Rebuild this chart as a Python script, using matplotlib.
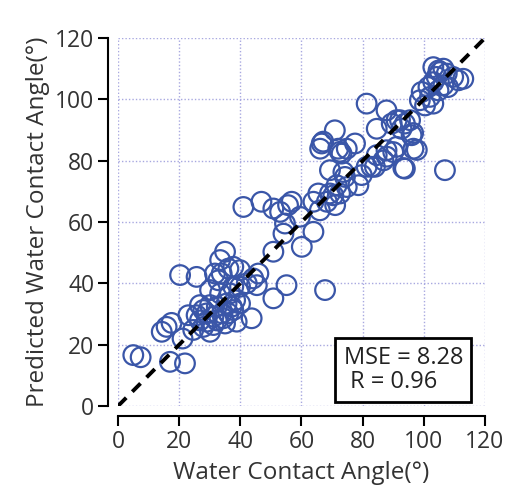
import matplotlib
matplotlib.use("Agg")
import matplotlib.pyplot as plt
import numpy as np

plt.rcParams['font.family'] = ['Open Sans', 'DejaVu Sans']

measured = [5.0, 7.4, 17.0, 21.9, 21.1, 14.3, 15.9, 17.5, 20.3, 25.7,
            24.6, 25.7, 27.9, 29.0, 30.1, 31.2, 32.3, 33.4, 32.8, 33.4,
            35.0, 36.1, 37.7, 39.9, 35.5, 36.6, 37.7, 38.8, 39.9, 37.7,
            43.7, 42.1, 44.2, 45.4, 45.9, 50.8, 55.1, 67.7, 50.8, 54.1,
            54.6, 53.0, 55.6, 56.8, 41.0, 46.9, 50.8, 59.5, 60.1, 63.9,
            63.9, 66.0, 68.3, 70.4, 71.0, 72.6, 74.2, 71.5, 78.6, 73.7,
            69.3, 66.6, 66.1, 70.9, 72.0, 73.1, 74.8, 77.5, 81.3, 84.0,
            86.8, 84.6, 87.8, 89.5, 90.0, 91.1, 92.2, 92.7, 93.8, 93.8,
            96.0, 96.6, 106.9,
            98.7, 100.4, 103.1, 99.3, 101.5, 103.1, 104.2, 105.3, 106.4, 107.5,
            104.8, 106.4, 109.6, 112.9, 111.3, 102.0, 107.9, 103.1, 104.8,
            26.8, 27.9, 29.0, 31.2, 32.3, 34.0, 34.4, 35.0, 36.1, 37.2,
            38.3, 30.1, 26.8, 23.0, 30.1, 31.7, 33.9, 39.9,
            69.3, 74.8, 65.5, 87.8, 84.6, 81.3, 95.5,
            67.1, 72.6, 91.1, 96.5, 97.7, 93.3, 87.9, 82.9, 79.7]
predicted = [16.6, 15.9, 14.4, 13.9, 22.0, 24.2, 25.8, 27.1, 42.7, 42.1,
             24.8, 29.6, 31.3, 27.5, 24.2, 29.1, 32.4, 36.7, 41.0, 47.6,
             50.3, 44.8, 45.4, 44.3, 33.4, 36.7, 31.3, 27.5, 33.4, 38.9,
             28.6, 40.0, 41.6, 39.4, 43.2, 35.1, 39.4, 37.8, 50.3, 56.2,
             59.5, 63.3, 65.5, 66.6, 64.9, 66.6, 64.4, 61.7, 51.9, 56.8,
             66.6, 63.8, 66.6, 68.7, 65.5, 69.3, 74.7, 72.0, 72.0, 76.3,
             76.9, 85.6, 83.9, 89.9, 83.9, 82.3, 83.9, 85.6, 98.6, 78.0,
             80.1, 90.4, 96.4, 92.1, 82.8, 84.5, 93.2, 90.4, 92.1, 77.4,
             88.3, 83.9, 76.9,
             99.7, 98.0, 98.6, 102.4, 104.0, 105.6, 107.3, 108.9, 110.0, 108.4,
             102.9, 104.6, 107.3, 106.7, 106.2, 100.8, 104.0, 110.5, 109.4,
             27.9, 25.8, 30.2, 26.4, 27.9, 30.2, 28.6, 26.9, 30.2, 32.4,
             34.5, 32.9, 32.9, 29.6, 37.8, 43.2, 43.2, 38.9,
             69.3, 71.4, 69.3, 83.4, 81.8, 78.0, 93.2,
             86.2, 82.9, 93.2, 89.0, 83.5, 77.6, 81.3, 78.0, 75.3]

ticks = [0, 20, 40, 60, 80, 100, 120]
mse_text = "MSE = 8.28\n R = 0.96"

fig = plt.figure(figsize=(5.1, 5.0), dpi=100)
ax = fig.add_axes([118/510, 1-406/500, 367/510, 368/500])

ax.set_xlim(0, 120)
ax.set_ylim(0, 120)
ax.set_xticks(ticks)
ax.set_yticks(ticks)

ax.grid(True, linestyle=(0, (1, 1.5)), color='#a8a8e0', linewidth=1.0)
ax.set_axisbelow(True)

ax.scatter(measured, predicted, s=200, facecolors='none',
           edgecolors='#3a56a8', linewidths=1.6, zorder=3)
ax.plot([0, 120], [0, 120], color='black', linewidth=2.8,
        dashes=(3, 2.2), zorder=4, solid_capstyle='butt')

for side in ['top', 'right']:
    ax.spines[side].set_visible(False)
for side in ['left', 'bottom']:
    ax.spines[side].set_position(('outward', 7))
    ax.spines[side].set_linewidth(1.5)
    ax.spines[side].set_bounds(0, 120)

ax.tick_params(axis='both', direction='out', length=7, width=1.5,
               labelsize=16.5, colors='black', labelcolor='#333333', pad=3)

ax.set_xlabel('Water Contact Angle(°)', fontsize=17.5, color='#333333', labelpad=5)
ax.set_ylabel('Predicted Water Contact Angle(°)', fontsize=17.5, color='#333333', labelpad=4)

ax.text(93.3, 11.7, mse_text, ha='center', va='center', multialignment='left',
        fontsize=17, color='#222222', zorder=5, linespacing=1.0,
        bbox=dict(boxstyle='square,pad=0.35', facecolor='white',
                  edgecolor='black', linewidth=2.0))

fig.savefig('out.png', dpi=100)
